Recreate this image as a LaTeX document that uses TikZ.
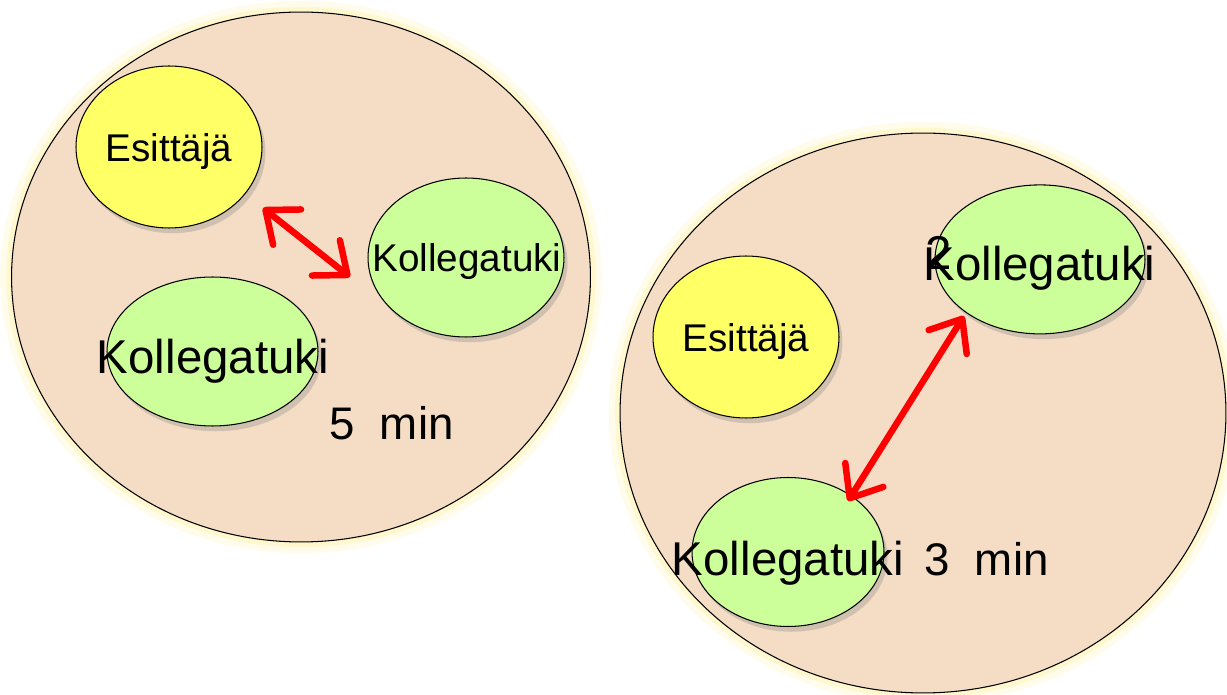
\documentclass[tikz,border=0pt]{standalone}
\usepackage{fontspec}
\setmainfont{Liberation Sans}
\usetikzlibrary{arrows.meta,shapes.geometric,shadows}
\definecolor{kgpeach}{HTML}{F4DDC4}
\definecolor{kgyellow}{HTML}{FFFF66}
\definecolor{kggreen}{HTML}{CCFF99}
\definecolor{kgglow}{HTML}{FFF0A0}
\definecolor{kgred}{HTML}{FF0000}
\tikzset{
  groupbox/.style={ellipse, draw=black, line width=0.6pt, fill=kgpeach, inner sep=0pt,
    preaction={draw=kgglow, line width=13pt, opacity=0.2},
    preaction={draw=kgglow, line width=6pt, opacity=0.4}},
  bubble/.style={ellipse, draw=black, line width=0.6pt, inner sep=0pt,
    drop shadow={shadow xshift=2pt, shadow yshift=-3pt, opacity=0.3}},
  presenter/.style={bubble, fill=kgyellow},
  colleague/.style={bubble, fill=kggreen},
  small/.style={anchor=base, font=\fontsize{22}{26}\selectfont},
  big/.style={anchor=base, font=\fontsize{27}{32}\selectfont},
  pairarrow/.style={kgred, line width=3.7pt, line cap=round, line join=round,
    {Straight Barb[length=5.5mm,width=9mm,round]}-{Straight Barb[length=5.5mm,width=9mm,round]}},
}

\begin{document}
\begin{tikzpicture}[x=0.02cm, y=-0.02cm]
  \useasboundingbox (0,0) rectangle (1227,695);
  % First round: presenter and two colleagues
  \node[groupbox, minimum width=11.58cm, minimum height=10.6cm] (g1) at (301,277) {};
  \node[presenter, minimum width=3.72cm, minimum height=3.24cm] (e1) at (169,147) {};
  \node[colleague, minimum width=3.92cm, minimum height=3.18cm] (k1) at (466,257.5) {};
  \node[colleague, minimum width=4.22cm, minimum height=2.98cm] (k1b) at (212.5,351.5) {};
  \node[small] (te1) at (169,162) {Esittäjä};
  \node[small] (tk1) at (467,272) {Kollegatuki};
  \node[big] (tk1b) at (213,373.5) {Kollegatuki};
  \node[big, anchor=base west, font=\fontsize{26}{31}\selectfont] (time1) at (323,440) {5\ \ min};
  \draw[pairarrow] ([shift={(94,61)}]e1.center) -- ([shift={(-116,19.5)}]k1.center);

  % Second round: the two colleagues talk
  \node[groupbox, minimum width=12.12cm, minimum height=11.2cm] (g2) at (923,413) {};
  \node[presenter, minimum width=3.72cm, minimum height=3.24cm] (e2) at (746,337) {};
  \node[colleague, minimum width=4.2cm, minimum height=2.98cm] (k2) at (1040,259.4) {};
  \node[colleague, minimum width=3.84cm, minimum height=2.98cm] (k2b) at (788,552) {};
  \node[small] (te2) at (746,352) {Esittäjä};
  \node[big, anchor=base west] (num2) at (919,270) {2};
  \node[big] (tk2) at (1039.5,281) {Kollegatuki};
  \node[big] (tk2b) at (788,575) {Kollegatuki};
  \node[big, anchor=base west, font=\fontsize{26}{31}\selectfont] (time2) at (918,575) {3\ \ min};
  \draw[pairarrow] ([shift={(-76,56.6)}]k2.center) -- ([shift={(60,-51)}]k2b.center);
\end{tikzpicture}
\end{document}
